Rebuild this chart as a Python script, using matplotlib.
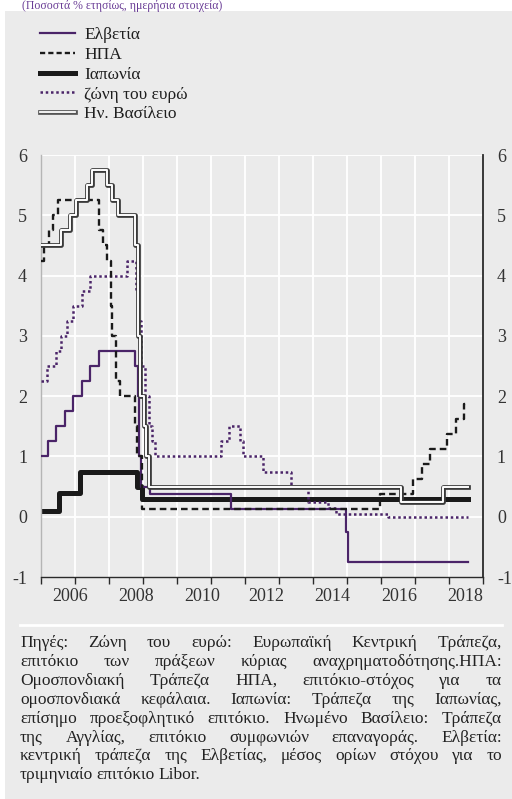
import numpy as np
import matplotlib
matplotlib.use("Agg")
import matplotlib.pyplot as plt
from matplotlib.patches import Rectangle
from matplotlib.lines import Line2D
import datetime as dt

plt.rcParams['font.family'] = ['Liberation Serif', 'DejaVu Serif']
plt.rcParams['axes.unicode_minus'] = False

# ---------------- data (policy-rate change dates and levels) ----------------
end_date = "2018-07-24"

swiss_dates = ["2006-01-02", "2006-03-16", "2006-06-15", "2006-09-14", "2006-12-14",
               "2007-03-15", "2007-06-14", "2007-09-13", "2008-10-08", "2008-11-06",
               "2008-11-20", "2008-12-11", "2009-03-12", "2011-08-03", "2014-12-18",
               "2015-01-15"]
swiss_vals = [1.0, 1.25, 1.5, 1.75, 2.0, 2.25, 2.5, 2.75, 2.5, 2.0, 1.0, 0.5, 0.375,
              0.125, -0.25, -0.75]

us_dates = ["2006-01-02", "2006-01-31", "2006-03-28", "2006-05-10", "2006-06-29",
            "2007-09-18", "2007-10-31", "2007-12-11", "2008-01-22", "2008-01-30",
            "2008-03-18", "2008-04-30", "2008-10-08", "2008-10-29", "2008-12-16",
            "2015-12-16", "2016-12-14", "2017-03-15", "2017-06-14", "2017-12-13",
            "2018-03-21", "2018-06-13"]
us_vals = [4.25, 4.5, 4.75, 5.0, 5.25, 4.75, 4.5, 4.25, 3.5, 3.0, 2.25, 2.0, 1.5, 1.0,
           0.125, 0.375, 0.625, 0.875, 1.125, 1.375, 1.625, 1.875]

japan_dates = ["2006-01-02", "2006-07-14", "2007-02-21", "2008-10-31", "2008-12-19"]
japan_vals = [0.1, 0.4, 0.75, 0.5, 0.3]

euro_dates = ["2006-01-02", "2006-03-08", "2006-06-15", "2006-08-09", "2006-10-11",
              "2006-12-13", "2007-03-14", "2007-06-13", "2008-07-09", "2008-10-15",
              "2008-11-12", "2008-12-10", "2009-01-21", "2009-03-11", "2009-04-08",
              "2009-05-13", "2011-04-13", "2011-07-13", "2011-11-09", "2011-12-14",
              "2012-07-11", "2013-05-08", "2013-11-13", "2014-06-11", "2014-09-10",
              "2016-03-16"]
euro_vals = [2.25, 2.5, 2.75, 3.0, 3.25, 3.5, 3.75, 4.0, 4.25, 3.75, 3.25, 2.5, 2.0,
             1.5, 1.25, 1.0, 1.25, 1.5, 1.25, 1.0, 0.75, 0.5, 0.25, 0.15, 0.05, 0.0]

uk_dates = ["2006-01-02", "2006-08-03", "2006-11-09", "2007-01-11", "2007-05-10",
            "2007-07-05", "2007-12-06", "2008-02-07", "2008-04-10", "2008-10-08",
            "2008-11-06", "2008-12-04", "2009-01-08", "2009-02-05", "2009-03-05",
            "2016-08-04", "2017-11-02"]
uk_vals = [4.5, 4.75, 5.0, 5.25, 5.5, 5.75, 5.5, 5.25, 5.0, 4.5, 3.0, 2.0, 1.5, 1.0,
           0.5, 0.25, 0.5]

labels = ["Ελβετία", "ΗΠΑ", "Ιαπωνία", "ζώνη του ευρώ", "Ην. Βασίλειο"]
year_ticks = list(range(2006, 2020))
year_labels = ["2006", "2008", "2010", "2012", "2014", "2016", "2018"]
y_ticks = [-1, 0, 1, 2, 3, 4, 5, 6]

title = "(Ποσοστά % ετησίως, ημερήσια στοιχεία)"
footer_lines = [
    "Πηγές: Ζώνη του ευρώ: Ευρωπαϊκή Κεντρική Τράπεζα,",
    "επιτόκιο των πράξεων κύριας αναχρηματοδότησης.ΗΠΑ:",
    "Ομοσπονδιακή Τράπεζα ΗΠΑ, επιτόκιο-στόχος για τα",
    "ομοσπονδιακά κεφάλαια. Ιαπωνία: Τράπεζα της Ιαπωνίας,",
    "επίσημο προεξοφλητικό επιτόκιο. Ηνωμένο Βασίλειο: Τράπεζα",
    "της Αγγλίας, επιτόκιο συμφωνιών επαναγοράς. Ελβετία:",
    "κεντρική τράπεζα της Ελβετίας, μέσος ορίων στόχου για το",
    "τριμηνιαίο επιτόκιο Libor.",
]


def frac_year(s):
    d = dt.date.fromisoformat(s)
    start = dt.date(d.year, 1, 1)
    n = (dt.date(d.year + 1, 1, 1) - start).days
    return d.year + (d - start).days / n


def series(dates, vals):
    x = [frac_year(s) for s in dates] + [frac_year(end_date)]
    y = list(vals) + [vals[-1]]
    return np.array(x), np.array(y)


# ---------------- figure ----------------
W, H = 512, 799
fig = plt.figure(figsize=(W / 100, H / 100), dpi=100)
fig.patch.set_facecolor("white")
BG = "#ebebeb"
fig.add_artist(Rectangle((5 / W, 0), 1, 1 - 11 / H, transform=fig.transFigure,
                         facecolor=BG, edgecolor="none", zorder=-10))

purple = "#4a2468"
ax = fig.add_axes([41 / W, 1 - 577 / H, (483 - 41) / W, (577 - 155) / H])
ax.set_facecolor("none")
ax.set_xlim(2006, 2019)
ax.set_ylim(-1, 6)

# grid
for yv in y_ticks[1:]:
    ax.axhline(yv, color="white", lw=1.3, zorder=0)
for xv in year_ticks[1:-1]:
    ax.axvline(xv, color="white", lw=1.3, zorder=0)

x, y = series(swiss_dates, swiss_vals)
ax.step(x, y, where="post", color=purple, lw=1.6, zorder=3)
x, y = series(us_dates, us_vals)
ax.step(x, y, where="post", color="#1a1a1a", lw=1.7, ls=(0, (2.8, 1.7)), zorder=4)
x, y = series(japan_dates, japan_vals)
ax.step(x, y, where="post", color="#1a1a1a", lw=3.6, zorder=2)
x, y = series(euro_dates, euro_vals)
ax.step(x, y, where="post", color=purple, lw=1.8, ls=(0, (1, 1.1)), zorder=3)
x, y = series(uk_dates, uk_vals)
ax.step(x, y, where="post", color="#3a3a3a", lw=3.4, zorder=5)
ax.step(x, y, where="post", color="white", lw=1.4, zorder=6)

# axes styling
ax.spines["top"].set_visible(False)
ax.spines["left"].set_color("#b5b5b5")
ax.spines["left"].set_linewidth(1.0)
ax.spines["right"].set_color("#2a2a2a")
ax.spines["right"].set_linewidth(1.3)
ax.spines["bottom"].set_color("#2a2a2a")
ax.spines["bottom"].set_linewidth(1.0)

TICK_FS = 13
ax.set_yticks(y_ticks)
ax.set_yticklabels([str(v) for v in y_ticks])
ax.tick_params(axis="y", which="both", length=0, labelsize=TICK_FS, colors="#333333",
               left=True, right=True, labelleft=True, labelright=True, pad=10)
ax.set_xticks(year_ticks)
ax.set_xticklabels([])
ax.tick_params(axis="x", which="major", direction="out", length=5, width=1.0,
               color="#2a2a2a")
lab_pos = [2006.85, 2008.79, 2010.74, 2012.62, 2014.56, 2016.53, 2018.47]
ax.set_xticks(lab_pos, minor=True)
ax.set_xticklabels(year_labels, minor=True)
ax.tick_params(axis="x", which="minor", length=0, labelsize=TICK_FS, colors="#333333",
               pad=8)

# legend
h_sw = Line2D([], [], color=purple, lw=1.6)
h_us = Line2D([], [], color="#1a1a1a", lw=1.7, ls=(0, (2.2, 1.3)))
h_jp = Line2D([], [], color="#1a1a1a", lw=3.6)
h_eu = Line2D([], [], color=purple, lw=1.8, ls=(0, (1, 1.1)))
h_uk1 = Line2D([], [], color="#555555", lw=3.4)
h_uk2 = Line2D([], [], color="white", lw=1.3)
LEG_FS = 12.5
leg = fig.legend([h_sw, h_us, h_jp, h_eu, (h_uk1, h_uk2)], labels,
                 loc="upper left", bbox_to_anchor=(40 / W, 1 - 27 / H),
                 frameon=False, fontsize=LEG_FS, handlelength=2.0,
                 handletextpad=0.55, labelspacing=0.21, borderpad=0,
                 borderaxespad=0)
for t in leg.get_texts():
    t.set_color("#1e1e1e")

# title (small, inside the top white band)
fig.text(22 / W, 1 - 8.5 / H, title, color="#6a3d96", fontsize=8.5, va="baseline",
         ha="left")

# separator
fig.add_artist(Line2D([20 / W, 502 / W], [1 - 625 / H, 1 - 625 / H],
                      transform=fig.transFigure, color="white", lw=2))

# justified footer
FOOT_FS = 12.5
fig.canvas.draw()
r = fig.canvas.get_renderer()
x0, x1 = 20, 502
base0 = 647
step = 18.9
for i, line in enumerate(footer_lines):
    yb = 1 - (base0 + i * step) / H
    words = line.split(" ")
    texts = [fig.text(0, yb, w_, fontsize=FOOT_FS, color="#222222", va="baseline")
             for w_ in words]
    widths = [t.get_window_extent(r).width for t in texts]
    if i == len(footer_lines) - 1:
        gap = 3.5
    else:
        gap = max(((x1 - x0) - sum(widths)) / (len(words) - 1), 2.0)
    xp = x0
    for t, wd in zip(texts, widths):
        t.set_x(xp / W)
        xp += wd + gap

fig.savefig("out.png", dpi=100, facecolor=fig.get_facecolor())
